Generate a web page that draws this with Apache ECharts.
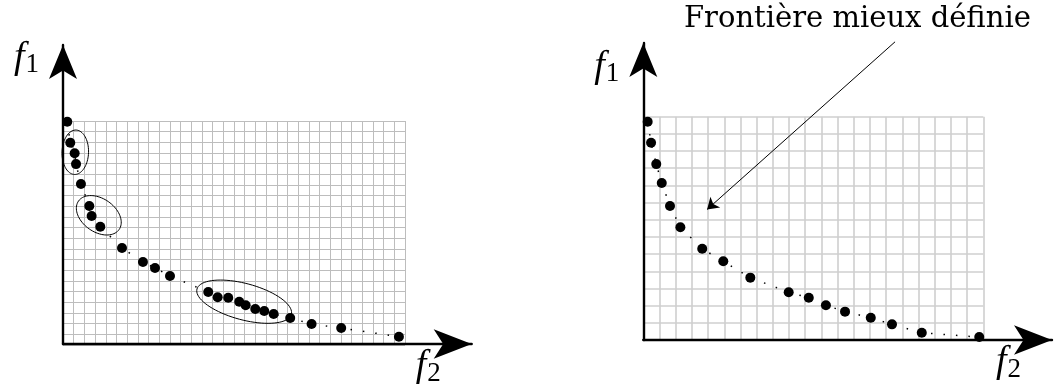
<!DOCTYPE html>
<html>
<head>
<meta charset="utf-8">
<script src="https://cdn.jsdelivr.net/npm/echarts@6/dist/echarts.min.js"></script>
<style>
  html, body { margin: 0; padding: 0; background: #fff; }
  #chart { width: 1055px; height: 387px; }
</style>
</head>
<body>
<div id="chart"></div>
<script>
  // grid size in cells
  var leftCells = [32, 21]
  var rightCells = [21, 13]

  // left front (f2, f1), in grid cells
  var leftF2 = [0.40, 0.68, 1.09, 1.22, 1.68, 2.46, 2.68, 3.49, 5.52, 7.48, 8.61, 10.01,
    13.59, 14.47, 15.46, 16.49, 17.09, 17.99, 18.83, 19.71, 21.26, 23.26, 26.03, 31.43]
  var leftF1 = [20.93, 18.96, 17.97, 16.96, 15.09, 13.03, 12.09, 11.09, 9.09, 7.78, 7.22, 6.47,
    4.97, 4.47, 4.43, 4.06, 3.72, 3.37, 3.19, 2.91, 2.53, 1.97, 1.59, 0.78]

  // right front (f2, f1)
  var rightF2 = [0.27, 0.48, 0.80, 1.14, 1.65, 2.29, 3.64, 4.94, 6.61, 8.98, 10.22, 11.28,
    12.46, 14.05, 15.36, 17.20, 20.75]
  var rightF1 = [12.71, 11.48, 10.24, 9.14, 7.80, 6.56, 5.31, 4.58, 3.63, 2.78, 2.46, 2.02,
    1.65, 1.30, 0.91, 0.42, 0.17]

  // ellipses round the clusters: centre, half axes, angle (deg)
  var ellCx = [1.15, 3.35, 16.95]
  var ellCy = [18.07, 12.16, 4.06]
  var ellA = [2.08, 2.32, 4.57]
  var ellB = [1.24, 1.56, 1.70]
  var ellAngle = [92, 35, 15]

  // annotation arrow on the right panel
  var arrowFrom = [15.55, 17.36]
  var arrowTo = [3.94, 7.60]

  var serif = 'Liberation Serif'

  function toPairs (xs, ys) {
    return xs.map(function (x, i) { return [x, ys[i]] })
  }

  function cellAxis (max, idx, lineStyle) {
    return {
      type: 'value',
      gridIndex: idx,
      min: 0,
      max: max,
      interval: 1,
      axisLine: { show: false },
      axisTick: { show: false },
      axisLabel: { show: false },
      splitLine: { show: true, lineStyle: lineStyle }
    }
  }

  function arrowAxis (idx, name, size, gap, textStyle) {
    return {
      type: 'value',
      gridIndex: idx,
      min: 0,
      max: 1,
      name: name,
      nameLocation: 'end',
      nameGap: gap,
      nameTextStyle: textStyle,
      axisLine: {
        show: true,
        symbol: ['none', 'arrow'],
        symbolSize: size,
        lineStyle: { color: '#000', width: 2.4 }
      },
      axisTick: { show: false },
      axisLabel: { show: false },
      splitLine: { show: false }
    }
  }

  var rich = {
    f: { fontFamily: serif, fontStyle: 'italic', fontSize: 38, color: '#000' },
    s: { fontFamily: serif, fontSize: 27, color: '#000', padding: [14, 0, 0, 1] }
  }

  function yName (padRight) {
    return { align: 'right', verticalAlign: 'middle', padding: [0, padRight, 0, 0], rich: rich }
  }
  function xName () {
    return { align: 'right', verticalAlign: 'top', padding: [2, 0, 0, 0], rich: rich }
  }

  var leftGrid = { left: 63, top: 121, width: 342, height: 224 }
  var rightGrid = { left: 643.3, top: 116.7, width: 340, height: 223.3 }

  var leftLines = { color: '#bdbdbd', width: 1 }
  var rightLines = { color: '#cfcfcf', width: 1.6 }

  var ellData = ellCx.map(function (x, i) {
    return [x, ellCy[i], ellA[i], ellB[i], ellAngle[i]]
  })

  function renderEllipse (params, api) {
    var c = api.coord([api.value(0), api.value(1)])
    var s = api.size([1, 1])
    var a = api.value(2) * s[0]
    var b = api.value(3) * s[0]
    var t = api.value(4) * Math.PI / 180
    var pts = []
    for (var k = 0; k <= 80; k++) {
      var p = k / 80 * Math.PI * 2
      var ex = a * Math.cos(p)
      var ey = b * Math.sin(p)
      pts.push([c[0] + ex * Math.cos(t) - ey * Math.sin(t), c[1] + ex * Math.sin(t) + ey * Math.cos(t)])
    }
    return {
      type: 'polygon',
      shape: { points: pts },
      style: { fill: 'none', stroke: '#000', lineWidth: 1 }
    }
  }

  var myChart = echarts.init(document.getElementById('chart'))
  var option = {
    backgroundColor: '#fff',
    animation: false,
    title: {
      text: 'Frontière mieux définie',
      left: 684,
      top: 5,
      padding: 0,
      textStyle: { fontFamily: 'DejaVu Serif', fontSize: 29, fontWeight: 'normal', color: '#000' }
    },
    grid: [
      leftGrid,
      { left: 63, top: 45, width: 408.7, height: 300 },
      rightGrid,
      { left: 643.3, top: 43, width: 408.7, height: 297 }
    ],
    xAxis: [
      cellAxis(leftCells[0], 0, leftLines),
      arrowAxis(1, '{f|f}{s|2}', [22, 38], -31, xName()),
      cellAxis(rightCells[0], 2, rightLines),
      arrowAxis(3, '{f|f}{s|2}', [22, 38], -31, xName())
    ],
    yAxis: [
      cellAxis(leftCells[1], 0, leftLines),
      arrowAxis(1, '{f|f}{s|1}', [21, 34], -13, yName(24)),
      cellAxis(rightCells[1], 2, rightLines),
      arrowAxis(3, '{f|f}{s|1}', [21, 34], -24, yName(24))
    ],
    series: [
      {
        type: 'line',
        xAxisIndex: 0,
        yAxisIndex: 0,
        data: toPairs(leftF2, leftF1),
        symbol: 'circle',
        symbolSize: 10,
        itemStyle: { color: '#000' },
        lineStyle: { color: '#000', width: 1.5, type: [1.5, 11] },
        z: 5
      },
      {
        type: 'custom',
        xAxisIndex: 0,
        yAxisIndex: 0,
        clip: false,
        data: ellData,
        encode: { x: 0, y: 1 },
        renderItem: renderEllipse,
        z: 6
      },
      {
        type: 'line',
        xAxisIndex: 2,
        yAxisIndex: 2,
        data: toPairs(rightF2, rightF1),
        symbol: 'circle',
        symbolSize: 10,
        itemStyle: { color: '#000' },
        lineStyle: { color: '#000', width: 1.5, type: [1.5, 11] },
        z: 5
      },
      {
        type: 'lines',
        coordinateSystem: 'cartesian2d',
        xAxisIndex: 2,
        yAxisIndex: 2,
        clip: false,
        symbol: ['none', 'arrow'],
        symbolSize: [8, 11],
        lineStyle: { color: '#000', width: 1, opacity: 1 },
        data: [{ coords: [arrowFrom, arrowTo] }],
        z: 6
      }
    ]
  }
  myChart.setOption(option)
  window.onresize = myChart.resize
</script>
</body>
</html>
